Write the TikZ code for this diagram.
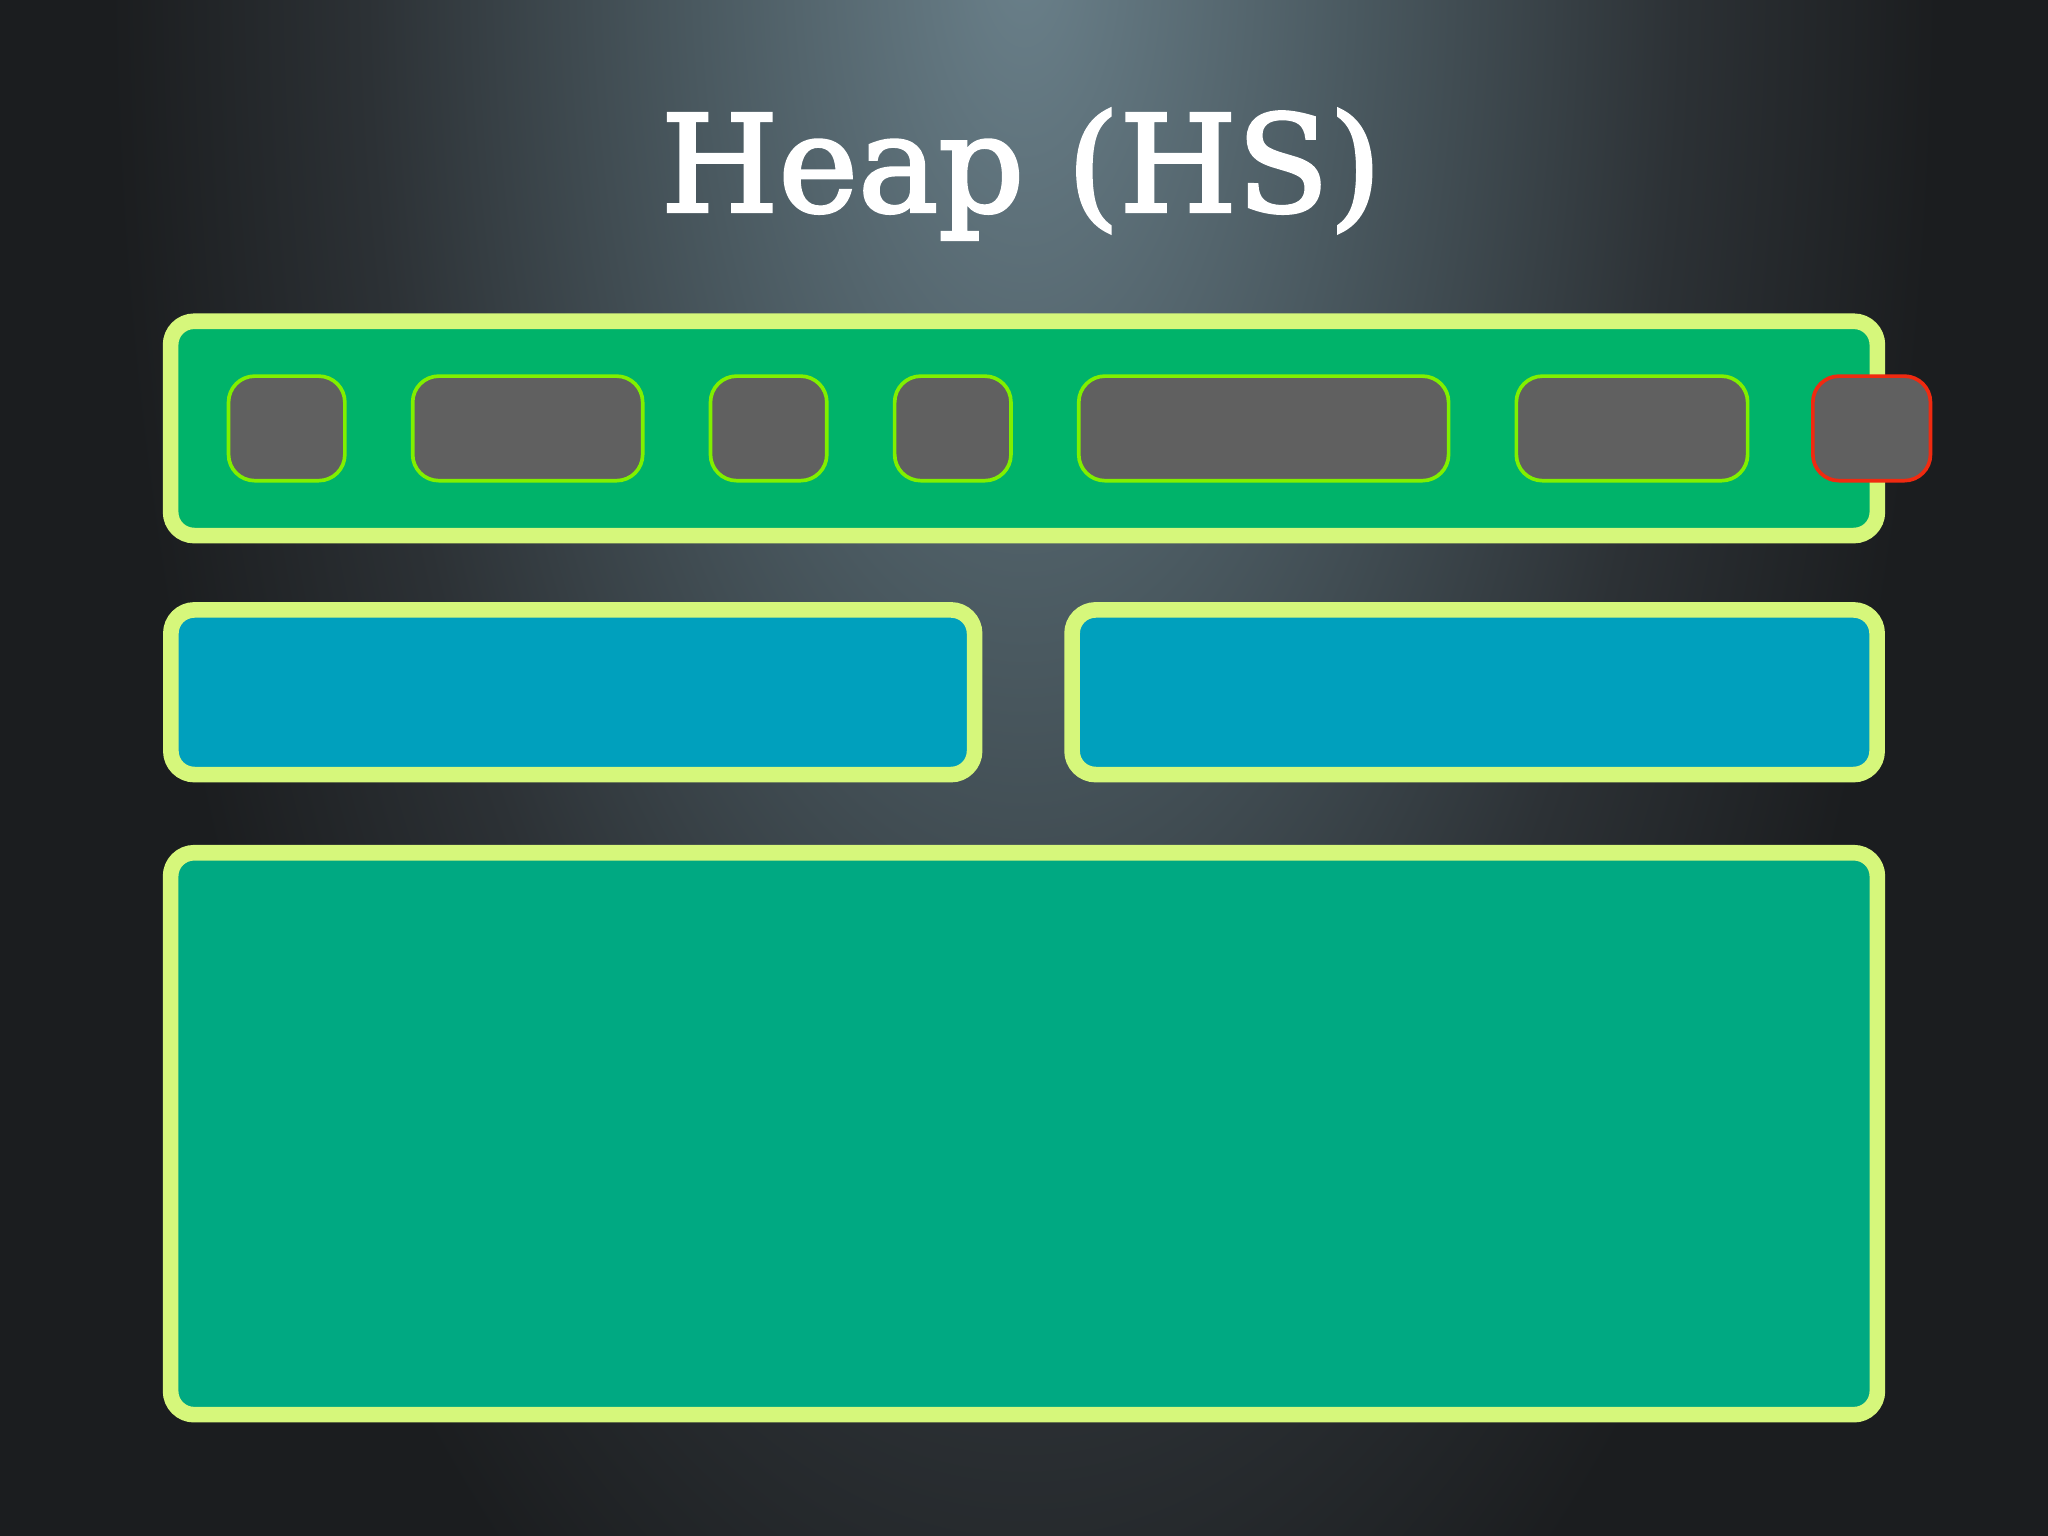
\documentclass[tikz,border=0pt]{standalone}
\usepackage{fontspec}
\newfontfamily\titlefont[FakeBold=2.3]{DejaVu Serif}
\definecolor{bgdark}{HTML}{1B1D1F}
\definecolor{bgmid}{HTML}{4A5960}
\definecolor{bglow}{HTML}{2C3135}
\definecolor{bgglow}{HTML}{6A808A}
\definecolor{lime}{HTML}{D6F77B}
\definecolor{topgreen}{HTML}{00B36A}
\definecolor{cellgray}{HTML}{606060}
\definecolor{celledge}{HTML}{80F000}
\definecolor{cellred}{HTML}{F02A10}
\definecolor{midblue}{HTML}{00A0BD}
\definecolor{botgreen}{HTML}{00A982}
\pgfdeclareradialshading{glow}{\pgfpoint{0bp}{0bp}}{color(0bp)=(bgglow); color(9bp)=(bgmid); color(18bp)=(bglow); color(25bp)=(bgdark); color(50bp)=(bgdark)}
\tikzset{
  region/.style={draw=lime, line width=3.4pt, rounded corners=0.18cm, inner sep=0pt, outer sep=0pt},
  cell/.style={draw=celledge, fill=cellgray, line width=0.8pt, rounded corners=0.2cm, inner sep=0pt, outer sep=0pt, minimum height=0.80cm},
  redcell/.style={cell, draw=cellred},
}
\begin{document}
\begin{tikzpicture}[x=0.01cm, y=-0.01cm]
\useasboundingbox (0,0) rectangle (1568,1176);
\begin{scope}
\clip (0,0) rectangle (1568,1176);
\fill[bgdark] (0,0) rectangle (1568,1176);
\shade[shading=glow] (784,-40) ellipse (700 and 1500);
\end{scope}
\node[text=white, anchor=base, font=\titlefont\fontsize{29.3}{34}\selectfont] (title) at (782,162) {Heap (HS)};
% top region
\node[region, fill=topgreen, minimum width=13.06cm, minimum height=1.64cm] (young) at (784,328) {};
\node[cell, minimum width=0.89cm] (c1) at (219.5,328) {};
\node[cell, minimum width=1.76cm] (c2) at (404,328) {};
\node[cell, minimum width=0.89cm] (c3) at (588.5,328) {};
\node[cell, minimum width=0.89cm] (c4) at (729.5,328) {};
\node[cell, minimum width=2.83cm] (c5) at (967.5,328) {};
\node[cell, minimum width=1.77cm] (c6) at (1249.5,328) {};
\node[redcell, minimum width=0.90cm] (c7) at (1433,328) {};
% middle regions
\node[region, fill=midblue, minimum width=6.15cm, minimum height=1.26cm] (survA) at (438.5,530) {};
\node[region, fill=midblue, minimum width=6.16cm, minimum height=1.26cm] (survB) at (1129,530) {};
% bottom region
\node[region, fill=botgreen, minimum width=13.06cm, minimum height=4.30cm] (old) at (784,868) {};
\end{tikzpicture}
\end{document}
